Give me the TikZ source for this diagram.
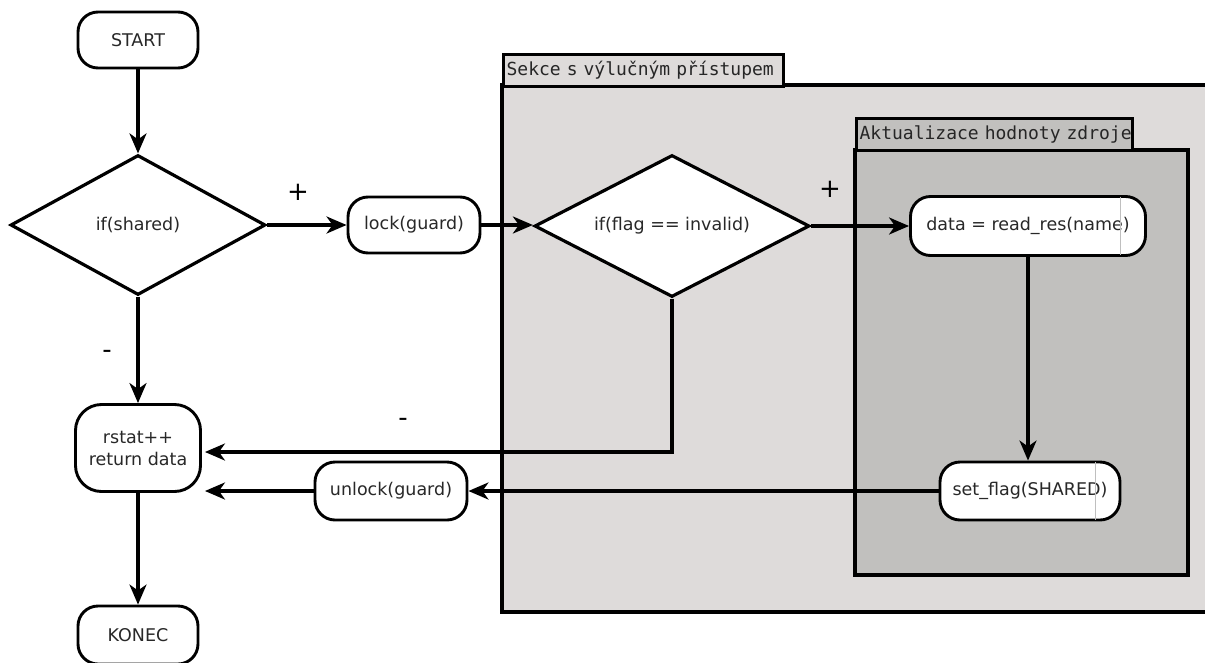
\documentclass[tikz,border=0pt]{standalone}
\usepackage{fontspec}
\setmainfont{DejaVu Sans}
\newfontfamily\tabfont{DejaVu Sans Mono}
\usetikzlibrary{shapes.geometric,arrows.meta}

\definecolor{outerfill}{RGB}{222,219,218}
\definecolor{innerfill}{RGB}{193,192,190}
\definecolor{inktext}{RGB}{40,40,40}

\begin{document}
\begin{tikzpicture}[x=1pt,y=-1pt,
  flow/.style={line width=3.2pt,-{Stealth[length=20pt,width=17pt,inset=6pt]}},
  term/.style={draw,line width=2.9pt,fill=white,rounded corners=20pt,
    text=inktext,font=\fontsize{17.5}{22}\selectfont,align=center,inner sep=0pt},
  decision/.style={draw,diamond,aspect=2,line width=3.2pt,fill=white,inner sep=0pt,
    text=inktext,font=\fontsize{17.5}{22}\selectfont},
  sectionbox/.style={draw,line width=3.2pt},
  tabbox/.style={draw,line width=3.2pt,anchor=north west,inner xsep=3pt,inner ysep=0pt,
    minimum height=32pt,align=left,font=\tabfont\fontsize{18}{20}\selectfont,text=black!85},
  sign/.style={font=\fontsize{26}{28}\selectfont,inner sep=0pt},
  seam/.style={draw=black!25,line width=0.9pt}
]
\clip (0,0) rectangle (1205,662);

% critical section with its title tab
\draw[sectionbox,fill=outerfill] (502,85) rectangle (1220,612);
\node[tabbox,fill=outerfill,text width=274pt] (outertab) at (502,53) {\mbox{Sekce s výlučným přístupem}};

% resource update section with its title tab
\draw[sectionbox,fill=innerfill] (855,150) rectangle (1188,575);
\node[tabbox,fill=innerfill,text width=270pt] (innertab) at (855,117) {\mbox{Aktualizace hodnoty zdroje}};

% flow nodes
\node[term,minimum width=120pt,minimum height=56pt] (start) at (138,40) {START};
\node[decision,minimum width=255pt,minimum height=140pt] (shared) at (138,225) {if(shared)};
\node[term,minimum width=132pt,minimum height=56pt] (lock) at (414,225) {lock(guard)};
\node[decision,minimum width=275pt,minimum height=142pt] (flag) at (672,226) {if(flag == invalid)};
\node[term,minimum width=235pt,minimum height=59pt] (data) at (1028,226) {data = read\_res(name)};
\node[term,minimum width=180pt,minimum height=58pt] (setflag) at (1030,491) {set\_flag(SHARED)};
\node[term,minimum width=152pt,minimum height=58pt] (unlock) at (391,491) {unlock(guard)};
\node[term,minimum width=125pt,minimum height=87pt,rounded corners=26pt] (rstat) at (138,448) {rstat++\\return data};
\node[term,minimum width=120pt,minimum height=58pt] (konec) at (138,635) {KONEC};

% thin seams inside the two wide terminals
\draw[seam] ([xshift=-27pt,yshift=-1.5pt]data.north east) -- ([xshift=-27pt,yshift=1.5pt]data.south east);
\draw[seam] ([xshift=-26pt,yshift=-1.5pt]setflag.north east) -- ([xshift=-26pt,yshift=1.5pt]setflag.south east);

% branch labels
\node[sign] (plusa) at (298,192) {+};
\node[sign] (plusb) at (830,189) {+};
\node[sign] (minusa) at (107,354) {-};
\node[sign] (minusb) at (403,422) {-};

% connectors
\draw[flow] (start.south) -- (shared.north);
\draw[flow] (shared.east) -- (lock.west);
\draw[flow] (lock.east) -- (lock.east -| flag.west);
\draw[flow] (flag.east) -- (data.west);
\draw[flow] (data.south) -- (data.south |- setflag.north);
\draw[flow] (setflag.west) -- (unlock.east);
\draw[flow,shorten >=3pt] (unlock.west) -- (unlock.west -| rstat.east);
\draw[flow,shorten >=3pt] (flag.south) |- ([yshift=-4pt]rstat.east);
\draw[flow] (shared.south) -- (rstat.north);
\draw[flow] (rstat.south) -- (konec.north);
\end{tikzpicture}
\end{document}
